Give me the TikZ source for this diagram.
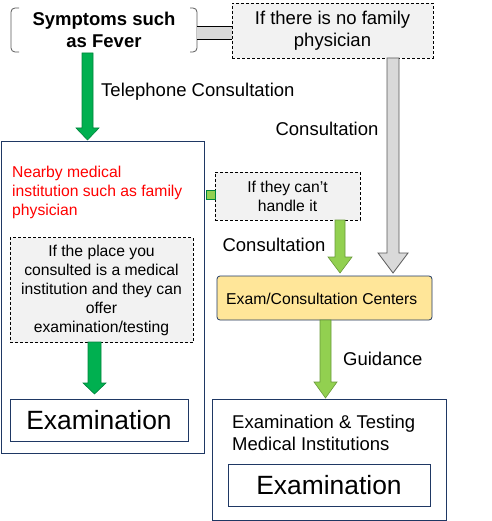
\documentclass[tikz,border=0pt]{standalone}
\usepackage{fontspec}
\setmainfont{Liberation Sans}
\definecolor{navy}{HTML}{1F3864}
\definecolor{dgreen}{HTML}{00B050}
\definecolor{dgreenl}{HTML}{00843C}
\definecolor{lgreen}{HTML}{92D050}
\definecolor{lgreenl}{HTML}{6A9A3A}
\definecolor{gfill}{HTML}{D9D9D9}
\definecolor{gline}{HTML}{595959}
\definecolor{boxfill}{HTML}{F2F2F2}
\definecolor{yfill}{HTML}{FFE699}
\newcommand\blockarr[7]{% style, x, ytop, ytip, shaft half, head half, head length
  \draw[#1] ({#2-#5},{#3}) -- ({#2+#5},{#3}) -- ({#2+#5},{#4-#7}) -- ({#2+#6},{#4-#7})
    -- ({#2},{#4}) -- ({#2-#6},{#4-#7}) -- ({#2-#5},{#4-#7}) -- cycle;}
\begin{document}
\begin{tikzpicture}[x=1pt,y=-1pt,
  big/.style={font=\fontsize{18.5}{22}\selectfont},
  mid/.style={font=\fontsize{15.7}{19}\selectfont},
  huge/.style={font=\fontsize{26.4}{30}\selectfont},
  dashbox/.style={draw=black, fill=boxfill, dashed, dash pattern=on 3pt off 2pt, line width=0.8pt, inner sep=0pt, align=center},
  navybox/.style={draw=navy, line width=1pt, inner sep=0pt},
  darr/.style={fill=dgreen, draw=dgreenl, line width=0.6pt},
  larr/.style={fill=lgreen, draw=lgreenl, line width=0.6pt},
  garr/.style={fill=gfill, draw=gline, line width=0.8pt},
  lbl/.style={big, inner sep=0pt}]
\useasboundingbox (0,0) rectangle (491,521);

% top row
\node[big, align=center, font=\bfseries\fontsize{18.5}{22}\selectfont, minimum width=186pt, minimum height=44pt, inner sep=0pt] (sym) at (104,30) {Symptoms such\\as Fever};
\draw[gline, line width=0.8pt, rounded corners=4pt] (19,8) -- (11,8) -- (11,52) -- (19,52);
\draw[gline, line width=0.8pt, rounded corners=4pt] (190,8) -- (197,8) -- (197,52) -- (190,52);
\node[dashbox, big, minimum width=201pt, minimum height=55pt] (nofam) at (332.5,30.5) {If there is no family\\physician};
\fill[gfill] (197,26) rectangle (232,39.5);
\draw[black, line width=0.8pt] (197,26) -- (232,26) (197,39.5) -- (232,39.5);

% left column
\node[navybox, minimum width=203pt, minimum height=311pt] (left) at (102.5,297.5) {};
\node[mid, text=red, align=left, anchor=north west, inner sep=0pt] (near) at (12,166) {Nearby medical\\institution such as family\\physician};
\node[dashbox, mid, minimum width=183pt, minimum height=105pt] (place) at (101.5,290) {If the place you\\consulted is a medical\\institution and they can\\offer\\examination/testing};
\node[navybox, huge, minimum width=178pt, minimum height=42pt] (exam1) at (99,420) {Examination};

% middle / right
\node[dashbox, mid, minimum width=145pt, minimum height=48pt] (cant) at (287.5,196) {If they can’t\\handle it};
\draw[fill=lgreen, draw=dgreenl, line width=0.8pt] (206,190) rectangle (215,199);
\node[draw=navy, fill=yfill, line width=0.8pt, rounded corners=3pt, minimum width=215pt, minimum height=44pt, inner sep=0pt] (center) at (324.5,298) {};
\node[mid, anchor=west, inner sep=0pt] (centertxt) at (226,299) {Exam/Consultation Centers};
\node[navybox, minimum width=234pt, minimum height=121pt] (right) at (329,459.5) {};
\node[big, align=left, anchor=west, inner sep=0pt] (emt) at (232,433) {Examination \& Testing\\Medical Institutions};
\node[navybox, huge, minimum width=202pt, minimum height=42pt] (exam2) at (329,485) {Examination};

% arrows
\blockarr{darr}{87.5}{53}{140}{5.5}{11.5}{12}
\blockarr{darr}{94.5}{342}{394}{6.5}{11.5}{11}
\blockarr{garr}{393}{58}{273}{6}{15}{20}
\blockarr{larr}{340}{220}{273}{5}{12}{16}
\blockarr{larr}{325.5}{320}{398}{5.5}{11.5}{16}

% labels
\node[lbl, anchor=west] (tel) at (101,92) {Telephone Consultation};
\node[lbl] (cons1) at (327,129) {Consultation};
\node[lbl] (cons2) at (274,245) {Consultation};
\node[lbl, anchor=west] (guid) at (343,359) {Guidance};
\end{tikzpicture}
\end{document}
